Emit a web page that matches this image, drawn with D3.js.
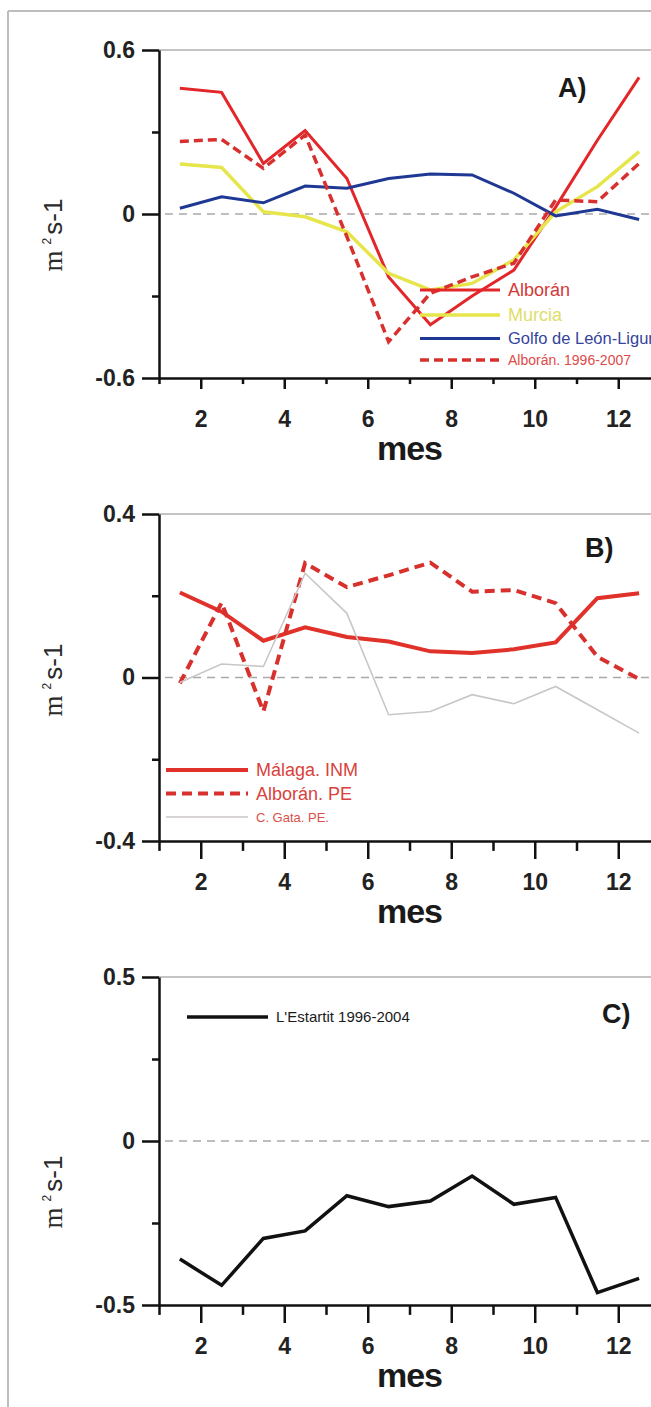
<!DOCTYPE html>
<html>
<head>
<meta charset="utf-8">
<script src="https://d3js.org/d3.v7.min.js"></script>
<style>
  body { margin: 0; background: #fff; }
  svg { display: block; font-family: "Liberation Sans", Arial, sans-serif; }
</style>
</head>
<body>
<div id="chart"></div>
<script>
// DATA
// each value sits in the middle of its month
var months = [1.5, 2.5, 3.5, 4.5, 5.5, 6.5, 7.5, 8.5, 9.5, 10.5, 11.5, 12.5];
var xMajorTicks = [2, 4, 6, 8, 10, 12];
var xMinorTicks = [1, 3, 5, 7, 9, 11, 13];

// panel A
var alboran     = [0.46, 0.445, 0.185, 0.305, 0.13, -0.23, -0.405, -0.30, -0.205, 0.025, 0.27, 0.50];
var murcia      = [0.183, 0.17, 0.008, -0.01, -0.065, -0.217, -0.278, -0.254, -0.168, 0.008, 0.10, 0.228];
var golfo       = [0.021, 0.063, 0.041, 0.102, 0.094, 0.13, 0.146, 0.143, 0.076, -0.007, 0.017, -0.02];
var alboranHist = [0.265, 0.273, 0.167, 0.289, -0.083, -0.467, -0.29, -0.23, -0.18, 0.051, 0.045, 0.185];
var namesA = ["Alborán", "Murcia", "Golfo de León-Liguria", "Alborán. 1996-2007"];
var yTicksA = [-0.6, 0, 0.6];

// panel B
var malaga    = [0.208, 0.161, 0.09, 0.123, 0.099, 0.088, 0.064, 0.06, 0.069, 0.086, 0.194, 0.206];
var alboranPE = [-0.014, 0.183, -0.083, 0.28, 0.221, 0.25, 0.281, 0.21, 0.214, 0.182, 0.051, -0.004];
var gata      = [-0.012, 0.033, 0.027, 0.255, 0.157, -0.091, -0.083, -0.042, -0.064, -0.022, -0.079, -0.136];
var namesB = ["Málaga. INM", "Alborán. PE", "C. Gata. PE."];
var yTicksB = [-0.4, 0, 0.4];

// panel C
var estartit = [-0.36, -0.44, -0.297, -0.274, -0.167, -0.20, -0.183, -0.107, -0.193, -0.172, -0.462, -0.419];
var namesC = ["L'Estartit 1996-2004"];
var yTicksC = [-0.5, 0, 0.5];

// SVG
var W = 651, H = 1407;
var svg = d3.select("#chart").append("svg")
  .attr("width", W)
  .attr("height", H);

// grey frame of the scanned figure
svg.append("line")
  .attr("x1", 8).attr("y1", 11).attr("x2", 8).attr("y2", H)
  .attr("stroke", "#bdbdbd").attr("stroke-width", 2);
svg.append("line")
  .attr("x1", 8).attr("y1", 11).attr("x2", W).attr("y2", 11)
  .attr("stroke", "#bdbdbd").attr("stroke-width", 2);

// shared x scale (the plot runs past the right edge of the picture)
var x = d3.scaleLinear().domain([1, 13]).range([159, 660]);

function toPoints(values) {
  return values.map(function (v, i) { return [months[i], v]; });
}

function drawPanel(p) {
  var y = d3.scaleLinear().domain(d3.extent(p.yTicks)).range([p.bottom, p.top]);
  var yMax = d3.max(p.yTicks);
  var g = svg.append("g");

  var line = d3.line()
    .x(function (d) { return x(d[0]); })
    .y(function (d) { return y(d[1]); });

  // grey top border
  g.append("line")
    .attr("x1", x(1)).attr("x2", W)
    .attr("y1", y(yMax)).attr("y2", y(yMax))
    .attr("stroke", "#c4c4c4").attr("stroke-width", 2);

  // dashed zero line
  g.append("line")
    .attr("x1", x(1) + 6).attr("x2", W)
    .attr("y1", y(0)).attr("y2", y(0))
    .attr("stroke", "#a9a9a9").attr("stroke-width", 1.5)
    .attr("stroke-dasharray", "8,6");

  // the series
  p.series.forEach(function (s) {
    g.append("path")
      .datum(toPoints(s.values))
      .attr("fill", "none")
      .attr("stroke", s.color)
      .attr("stroke-width", s.width)
      .attr("stroke-dasharray", s.dash || null)
      .attr("d", line);
  });

  // Y axis, major and minor ticks
  var yAxis = g.append("g")
    .attr("transform", "translate(" + x(1) + ",0)")
    .call(d3.axisLeft(y).tickValues(p.yTicks).tickSize(17).tickSizeOuter(0).tickPadding(7)
      .tickFormat(function (d) { return String(d); }));
  g.append("g")
    .attr("transform", "translate(" + x(1) + ",0)")
    .call(d3.axisLeft(y).tickValues([-yMax / 2, yMax / 2]).tickSize(7).tickFormat(""))
    .select(".domain").remove();

  // X axis, major and minor ticks
  var xAxis = g.append("g")
    .attr("transform", "translate(0," + p.bottom + ")")
    .call(d3.axisBottom(x).tickValues(xMajorTicks).tickSize(p.xTick).tickSizeOuter(0)
      .tickPadding(33 - p.xTick));
  g.append("g")
    .attr("transform", "translate(0," + p.bottom + ")")
    .call(d3.axisBottom(x).tickValues(xMinorTicks).tickSize(p.xTick * 0.55).tickFormat(""))
    .select(".domain").remove();

  g.selectAll(".domain").attr("stroke", "#111").attr("stroke-width", 2.5);
  g.selectAll(".tick line").attr("stroke", "#111").attr("stroke-width", 2.5);
  g.selectAll(".tick text")
    .attr("fill", "#222")
    .style("font-size", "23px")
    .style("font-weight", "bold");

  // x title
  g.append("text")
    .attr("x", x(7))
    .attr("y", p.bottom + 82)
    .attr("text-anchor", "middle")
    .attr("fill", "#1a1a1a")
    .style("font-size", "34px")
    .style("font-weight", "bold")
    .style("letter-spacing", "-1px")
    .text("mes");

  // y title, m (serif) ² s-1
  var yt = g.append("text")
    .attr("transform", "translate(62," + p.labelY + ") rotate(-90)")
    .attr("text-anchor", "middle")
    .attr("fill", "#2a2a2a");
  yt.append("tspan")
    .style("font-family", "'Liberation Serif', serif")
    .style("font-size", "27px")
    .text("m");
  yt.append("tspan")
    .attr("dx", 6).attr("dy", -11)
    .style("font-size", "12px")
    .text("2");
  yt.append("tspan")
    .attr("dx", 3).attr("dy", 11)
    .style("font-size", "26px")
    .text("s-1");

  // panel letter
  g.append("text")
    .attr("x", p.letterX)
    .attr("y", p.letterY)
    .attr("fill", "#1a1a1a")
    .style("font-size", "27px")
    .style("font-weight", "bold")
    .text(p.letter);

  // legend
  p.series.forEach(function (s, i) {
    var ly = p.legend.y + i * p.legend.step[i];
    g.append("line")
      .attr("x1", p.legend.x).attr("x2", p.legend.x + p.legend.len)
      .attr("y1", ly).attr("y2", ly)
      .attr("stroke", s.color)
      .attr("stroke-width", s.width)
      .attr("stroke-dasharray", s.dash || null);
    g.append("text")
      .attr("x", p.legend.x + p.legend.len + 8)
      .attr("y", ly)
      .attr("dy", "0.35em")
      .attr("fill", s.textColor)
      .style("font-size", s.fontSize + "px")
      .text(s.name);
  });
}

// PANEL A
drawPanel({
  top: 50, bottom: 378, yTicks: yTicksA, xTick: 11, labelY: 235,
  letter: "A)", letterX: 558, letterY: 97,
  legend: { x: 420, len: 80, y: 290, step: [0, 25, 24.3, 23.3] },
  series: [
    { name: namesA[0], values: alboran, color: "#e3262a", width: 3, textColor: "#d23a38", fontSize: 18 },
    { name: namesA[1], values: murcia, color: "#e6e64c", width: 3.5, textColor: "#dede6a", fontSize: 18 },
    { name: namesA[2], values: golfo, color: "#1e3894", width: 3, textColor: "#34449c", fontSize: 16.5 },
    { name: namesA[3], values: alboranHist, color: "#d8302f", width: 3.5, dash: "9,5", textColor: "#e04a48", fontSize: 14 }
  ]
});

// PANEL B
drawPanel({
  top: 514, bottom: 841, yTicks: yTicksB, xTick: 18, labelY: 680,
  letter: "B)", letterX: 585, letterY: 557,
  legend: { x: 166, len: 82, y: 770, step: [0, 23.5, 23.5] },
  series: [
    { name: namesB[0], values: malaga, color: "#e0322a", width: 4, textColor: "#d9423c", fontSize: 18 },
    { name: namesB[1], values: alboranPE, color: "#d8302d", width: 4, dash: "10,6", textColor: "#d9423c", fontSize: 18 },
    { name: namesB[2], values: gata, color: "#cbc6c6", width: 1.6, textColor: "#d9504a", fontSize: 13 }
  ]
});

// PANEL C
drawPanel({
  top: 977, bottom: 1305, yTicks: yTicksC, xTick: 18, labelY: 1192,
  letter: "C)", letterX: 602, letterY: 1023,
  legend: { x: 187, len: 81, y: 1017, step: [0] },
  series: [
    { name: namesC[0], values: estartit, color: "#111", width: 3.5, textColor: "#1a1a1a", fontSize: 15 }
  ]
});
</script>
</body>
</html>
